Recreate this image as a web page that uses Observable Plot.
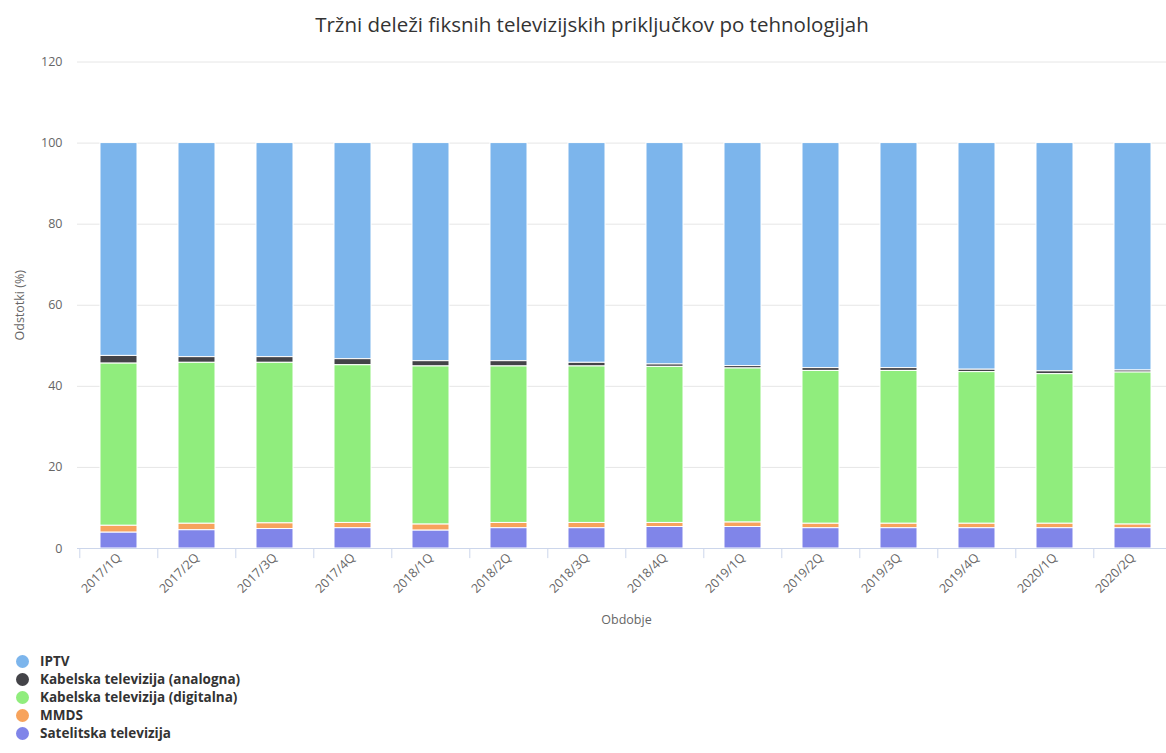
<!DOCTYPE html>
<html>
<head>
<meta charset="utf-8">
<script src="https://cdn.jsdelivr.net/npm/d3@7"></script>
<script src="https://cdn.jsdelivr.net/npm/@observablehq/plot@0.6"></script>
<style>
  html, body { margin: 0; padding: 0; background: #fff; overflow: hidden; }
  #wrap { width: 1166px; height: 753px; overflow: hidden; position: relative; font-family: "Open Sans", sans-serif; }
  #title { position: absolute; left: 0; top: 10px; width: 1184px; text-align: center; font-size: 20.5px; color: #333; }
  #chart { position: absolute; left: 0; top: 40px; }
  #chart svg { max-width: none; }
  #legend { position: absolute; left: 16px; top: 652px; font-size: 13.5px; font-weight: bold; color: #333; }
  .li { height: 18px; line-height: 18px; display: flex; align-items: center; }
  .dot { width: 13px; height: 13px; border-radius: 50%; margin-right: 11px; }
</style>
</head>
<body>
<div id="wrap">
  <div id="title">Tržni deleži fiksnih televizijskih priključkov po tehnologijah</div>
  <div id="chart"></div>
  <div id="legend"></div>
</div>
<script>
const periods = ["2017/1Q","2017/2Q","2017/3Q","2017/4Q","2018/1Q","2018/2Q","2018/3Q","2018/4Q","2019/1Q","2019/2Q","2019/3Q","2019/4Q","2020/1Q","2020/2Q"];
const seriesNames = ["IPTV","Kabelska televizija (analogna)","Kabelska televizija (digitalna)","MMDS","Satelitska televizija"];
const seriesColors = ["#7cb5ec","#434348","#90ed7d","#f7a35c","#8085e9"];
const iptv      = [52.5,52.8,52.8,53.3,53.8,53.8,54.2,54.6,55.0,55.5,55.5,55.9,56.3,56.1];
const analogna  = [1.9,1.4,1.4,1.5,1.3,1.3,0.9,0.6,0.6,0.7,0.7,0.6,0.7,0.5];
const digitalna = [40.0,39.7,39.6,38.9,39.0,38.6,38.6,38.5,38.0,37.7,37.7,37.4,36.9,37.5];
const mmds      = [1.7,1.6,1.4,1.3,1.5,1.3,1.3,1.0,1.1,1.1,1.1,1.1,1.1,0.9];
const satelit   = [3.9,4.5,4.8,5.0,4.4,5.0,5.0,5.3,5.3,5.0,5.0,5.0,5.0,5.0];
const yTicks = [0,20,40,60,80,100,120];

const seriesValues = [iptv, analogna, digitalna, mmds, satelit];
const rows = [];
seriesNames.forEach((s, si) => periods.forEach((p, pi) => rows.push({period: p, series: s, value: seriesValues[si][pi]})));

const stackOrder = seriesNames.slice().reverse();

const chart = Plot.plot({
  width: 1184,
  height: 600,
  marginLeft: 77,
  marginRight: 9,
  marginTop: 21.5,
  marginBottom: 92,
  style: {fontFamily: "Open Sans, sans-serif", fontSize: "12.5px", color: "#666", overflow: "visible"},
  x: {domain: periods, paddingInner: 0.52, paddingOuter: 0.26, align: 0.5},
  y: {domain: [0, 120], ticks: yTicks},
  color: {domain: seriesNames, range: seriesColors},
  marks: [
    Plot.gridY(yTicks, {stroke: "#e6e6e6", strokeOpacity: 1, strokeWidth: 1}),
    Plot.barY(rows, Plot.stackY({order: stackOrder}, {x: "period", y: "value", z: "series", fill: "series", stroke: "white", strokeWidth: 1})),
    Plot.ruleY([0], {stroke: "#ccd6eb"}),
    Plot.ruleX(periods, {x: d => d, dx: -39.2, y1: 0, y2: -2.5, stroke: "#ccd6eb"}),
    Plot.axisY(yTicks, {tickSize: 0, tickPadding: 15, label: "Odstotki (%)", labelAnchor: "center", labelArrow: "none", labelOffset: 62, fill: "#666", fontSize: 12.5}),
    Plot.axisX({tickSize: 0, tickRotate: -45, tickPadding: 7, label: "Obdobje", labelAnchor: "center", labelArrow: "none", labelOffset: 75, fill: "#666", fontSize: 12.5})
  ]
});
document.getElementById("chart").appendChild(chart);

const legend = document.getElementById("legend");
seriesNames.forEach((s, i) => {
  const li = document.createElement("div");
  li.className = "li";
  const dot = document.createElement("span");
  dot.className = "dot";
  dot.style.background = seriesColors[i];
  const t = document.createElement("span");
  t.textContent = s;
  li.appendChild(dot);
  li.appendChild(t);
  legend.appendChild(li);
});
</script>
</body>
</html>
